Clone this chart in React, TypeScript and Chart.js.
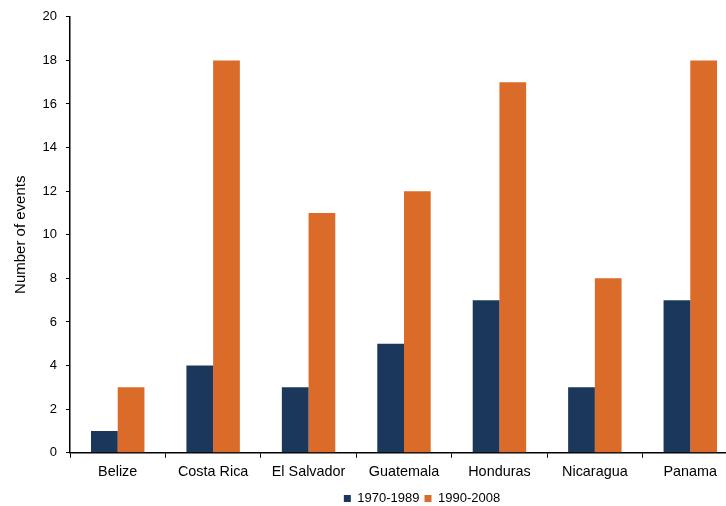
import React, { useEffect, useRef } from "react";
import { Chart, registerables } from "chart.js";

Chart.register(...registerables);

const categories = ["Belize", "Costa Rica", "El Salvador", "Guatemala", "Honduras", "Nicaragua", "Panama"];
const series1970 = [1, 4, 3, 5, 7, 3, 7];
const series1990 = [3, 18, 11, 12, 17, 8, 18];
const seriesNames = ["1970-1989", "1990-2008"];
const yTicksMax = 20;
const yTickStep = 2;

const FONT = "'Liberation Sans', Arial, sans-serif";
const CANVAS_W = 844;
const CANVAS_H = 517;

export default function App() {
  const ref = useRef<HTMLCanvasElement | null>(null);

  useEffect(() => {
    if (!ref.current) return;
    const chart = new Chart(ref.current, {
      type: "bar",
      data: {
        labels: categories,
        datasets: [
          {
            label: seriesNames[0],
            data: series1970,
            backgroundColor: "#1b375c",
            borderWidth: 0,
            barPercentage: 1,
            categoryPercentage: 0.56,
          },
          {
            label: seriesNames[1],
            data: series1990,
            backgroundColor: "#db6b28",
            borderWidth: 0,
            barPercentage: 1,
            categoryPercentage: 0.56,
          },
        ],
      },
      options: {
        responsive: false,
        animation: false,
        devicePixelRatio: 1,
        layout: { padding: { left: 0, right: 0, top: 13, bottom: 2 } },
        plugins: {
          tooltip: { enabled: false },
          legend: {
            position: "bottom",
            labels: {
              boxWidth: 7,
              boxHeight: 7,
              padding: 5,
              color: "#000",
              font: { family: FONT, size: 13 },
            },
          },
        },
        scales: {
          x: {
            grid: {
              display: true,
              drawOnChartArea: false,
              drawTicks: true,
              tickLength: 5,
              color: "#000",
              offset: true,
            },
            border: { display: true, color: "#000", width: 1.5 },
            ticks: { color: "#000", font: { family: FONT, size: 14.4 }, padding: 6 },
          },
          y: {
            min: 0,
            max: yTicksMax,
            grid: {
              display: true,
              drawOnChartArea: false,
              drawTicks: true,
              tickLength: 4,
              color: "#000",
            },
            border: { display: true, color: "#000", width: 1.5 },
            ticks: {
              stepSize: yTickStep,
              color: "#000",
              font: { family: FONT, size: 13 },
              padding: 9,
            },
            title: {
              display: true,
              text: "Number of events",
              color: "#000",
              font: { family: FONT, size: 15 },
              padding: { top: 12, bottom: 4 },
            },
            afterFit: (scale: any) => {
              scale.width = 70;
            },
          },
          yRight: {
            position: "right",
            display: true,
            grid: { display: false, drawTicks: false },
            border: { display: false },
            ticks: { display: false },
            afterFit: (scale: any) => {
              scale.width = 106;
            },
          },
        },
      },
    });
    return () => chart.destroy();
  }, []);

  return (
    <div style={{ position: "fixed", left: 0, top: 0, width: 726, height: 506, overflow: "hidden", background: "#fff" }}>
      <canvas ref={ref} width={CANVAS_W} height={CANVAS_H} style={{ width: CANVAS_W, height: CANVAS_H }} />
    </div>
  );
}
